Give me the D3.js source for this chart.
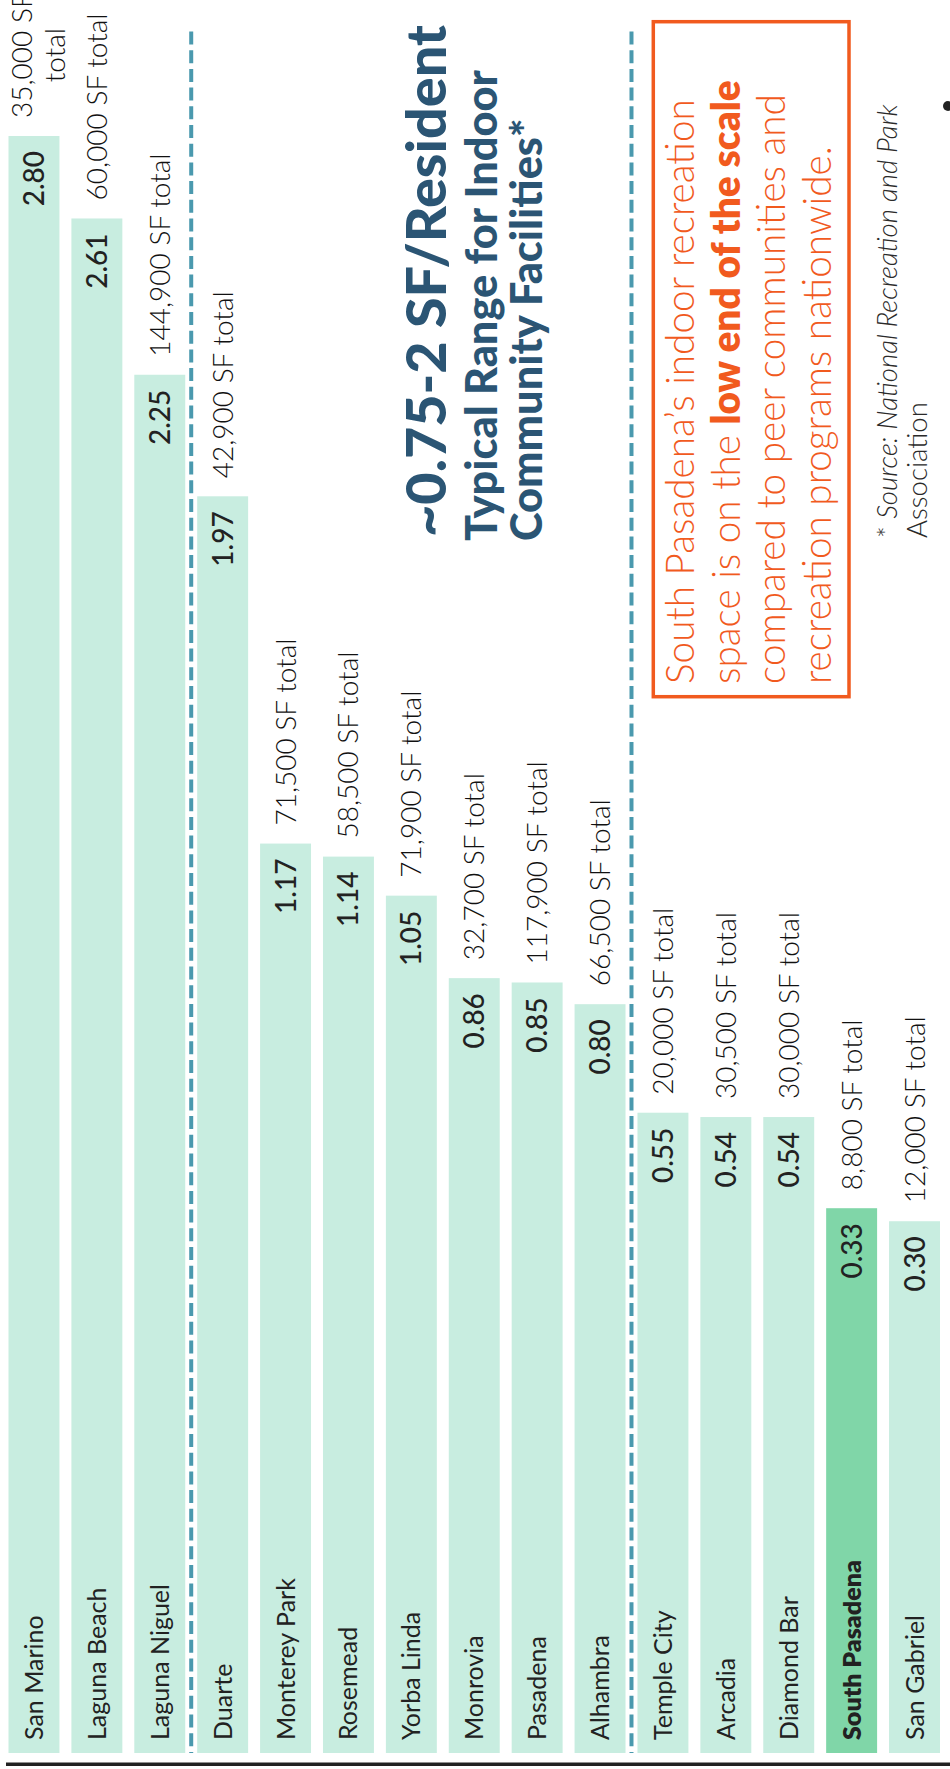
<!DOCTYPE html>
<html>
<head>
<meta charset="utf-8">
<script src="https://cdn.jsdelivr.net/npm/d3@7"></script>
<style>
  html, body { margin: 0; padding: 0; background: #fff; }
  svg { display: block; }
  text { font-family: Lato, "Open Sans", sans-serif; }
</style>
</head>
<body>
<script>
// ---------- data ----------
const cities = ["San Marino", "Laguna Beach", "Laguna Niguel", "Duarte", "Monterey Park",
  "Rosemead", "Yorba Linda", "Monrovia", "Pasadena", "Alhambra", "Temple City",
  "Arcadia", "Diamond Bar", "South Pasadena", "San Gabriel"];
const sfPerResident = [2.80, 2.61, 2.25, 1.97, 1.17, 1.14, 1.05, 0.86, 0.85, 0.80,
  0.55, 0.54, 0.54, 0.33, 0.30];
const totalLabels = ["35,000 SF total", "60,000 SF total", "144,900 SF total", "42,900 SF total",
  "71,500 SF total", "58,500 SF total", "71,900 SF total", "32,700 SF total",
  "117,900 SF total", "66,500 SF total", "20,000 SF total", "30,500 SF total",
  "30,000 SF total", "8,800 SF total", "12,000 SF total"];
const highlightCity = "South Pasadena";
const tierStarts = ["Duarte", "Temple City"];   // dashed dividers before these
const titleText = "~0.75-2 SF/Resident";
const subtitleLines = ["Typical Range for Indoor", "Community Facilities*"];
const calloutLines = [
  [{t: "South Pasadena\u2019s indoor recreation", b: false}],
  [{t: "space is on the ", b: false}, {t: "low end of the scale", b: true}],
  [{t: "compared to peer communities and", b: false}],
  [{t: "recreation programs nationwide.", b: false}]
];
const sourceLines = [
  [{t: "* ", i: false}, {t: "Source: National Recreation and Park", i: true}],
  [{t: "Association", i: false}]
];

const data = cities.map((c, i) => ({city: c, v: sfPerResident[i], total: totalLabels[i]}));

// ---------- layout ----------
const W = 950, H = 1769;
const svg = d3.select("body").append("svg").attr("width", W).attr("height", H);

const x = d3.scaleBand().domain(cities).range([8.5, 940]).paddingInner(0.19).paddingOuter(0);
const y = d3.scaleLinear().domain([-0.925, 2.8]).range([1753, 136]);
const base = y.domain()[0];
const bw = x.bandwidth();

const mint = "#c8ede0", mintHi = "#80d6a8", ink = "#222", navy = "#2b5574", orange = "#f15a1e", teal = "#4a99ae";

// bars
svg.append("g").selectAll("rect").data(data).join("rect")
  .attr("x", d => x(d.city)).attr("width", bw)
  .attr("y", d => y(d.v)).attr("height", d => y(base) - y(d.v))
  .attr("fill", d => d.city === highlightCity ? mintHi : mint);

// tier dividers
svg.append("g").selectAll("line").data(tierStarts).join("line")
  .attr("x1", d => x(d) - x.step() * x.paddingInner() / 2)
  .attr("x2", d => x(d) - x.step() * x.paddingInner() / 2)
  .attr("y1", 31.5).attr("y2", y(base))
  .attr("stroke", teal).attr("stroke-width", 4).attr("stroke-dasharray", "13 5.7");

// baseline axis
svg.append("line").attr("x1", 6).attr("x2", W).attr("y1", 1764.3).attr("y2", 1764.3)
  .attr("stroke", ink).attr("stroke-width", 3.5);

const cx = d => x(d.city) + bw / 2;

// city labels
svg.append("g").selectAll("text").data(data).join("text")
  .attr("transform", d => `translate(${cx(d) + 9},1740) rotate(-90)`)
  .attr("font-size", 25).attr("fill", ink)
  .attr("font-weight", d => d.city === highlightCity ? 800 : 400)
  .text(d => d.city);

// value labels
const fmt = d3.format(".2f");
svg.append("g").selectAll("text").data(data).join("text")
  .attr("transform", d => `translate(${cx(d) + 10},${y(d.v) + 15}) rotate(-90)`)
  .attr("text-anchor", "end").attr("font-size", 28).attr("font-weight", 500).attr("fill", ink)
  .text(d => fmt(d.v));

// total labels (wrap when they would run off the top)
const tot = svg.append("g").selectAll("text").data(data).join("text")
  .attr("font-size", 28).attr("font-weight", 300).attr("fill", "#111")
  .text(d => d.total);
tot.each(function(d) {
  const t = d3.select(this);
  const start = y(d.v) - 18;
  const len = this.getComputedTextLength();
  if (start - len >= 0) {
    t.attr("transform", `translate(${cx(d) + 10},${start}) rotate(-90)`);
  } else {
    const words = d.total.split(" ");
    const l1 = words.slice(0, -1).join(" "), l2 = words[words.length - 1];
    t.text(null);
    const a = t.append("tspan").attr("x", 0).attr("dy", -11.5).text(l1);
    const w1 = a.node().getComputedTextLength();
    t.append("tspan").attr("x", 0).attr("dy", 32.5).text(l2);
    t.attr("text-anchor", "middle")
     .attr("transform", `translate(${cx(d) + 10},${start - w1 / 2}) rotate(-90)`);
  }
});

// helper: fit font size so the reference line spans target length
function fitSize(textSel, target) {
  const fs = +textSel.attr("font-size");
  const len = textSel.node().getComputedTextLength();
  return fs * target / len;
}

// title
const title = svg.append("text").attr("transform", "translate(446,537) rotate(-90)")
  .attr("font-size", 50).attr("font-weight", 900).attr("fill", navy).text(titleText);
title.attr("font-size", fitSize(title, 512));

// subtitle
const subBase = [497, 542];
const sub = svg.append("g").selectAll("text").data(subtitleLines).join("text")
  .attr("transform", (d, i) => `translate(${subBase[i]},541) rotate(-90)`)
  .attr("font-size", 36).attr("font-weight", 900).attr("fill", navy).text(d => d);
const subFs = fitSize(d3.select(sub.nodes()[0]), 471);
sub.attr("font-size", subFs);

// callout box
svg.append("rect").attr("x", 653.3).attr("y", 21.7).attr("width", 195.7).attr("height", 675)
  .attr("fill", "none").attr("stroke", orange).attr("stroke-width", 3.5);
const boxBase = [694, 739.5, 785, 830.5];
const call = svg.append("g").selectAll("text").data(calloutLines).join("text")
  .attr("transform", (d, i) => `translate(${boxBase[i]},684) rotate(-90)`)
  .attr("font-size", 38).attr("fill", orange).attr("font-weight", 300);
call.selectAll("tspan").data(d => d).join("tspan")
  .attr("font-weight", s => s.b ? 800 : 300).text(s => s.t);
const callFs = fitSize(d3.select(call.nodes()[0]), 585);
call.attr("font-size", callFs);

// source note
const srcBase = [897, 927];
const src = svg.append("g").selectAll("text").data(sourceLines).join("text")
  .attr("transform", (d, i) => `translate(${srcBase[i]},538) rotate(-90)`)
  .attr("font-size", 24).attr("font-weight", 300).attr("fill", "#2a2a2a");
src.selectAll("tspan").data(d => d).join("tspan")
  .attr("font-style", s => s.i ? "italic" : "normal").text(s => s.t);
const srcFs = fitSize(d3.select(src.nodes()[0]), 434);
src.attr("font-size", srcFs);

// edge bullet
svg.append("circle").attr("cx", 948).attr("cy", 106).attr("r", 5).attr("fill", ink);
</script>
</body>
</html>
